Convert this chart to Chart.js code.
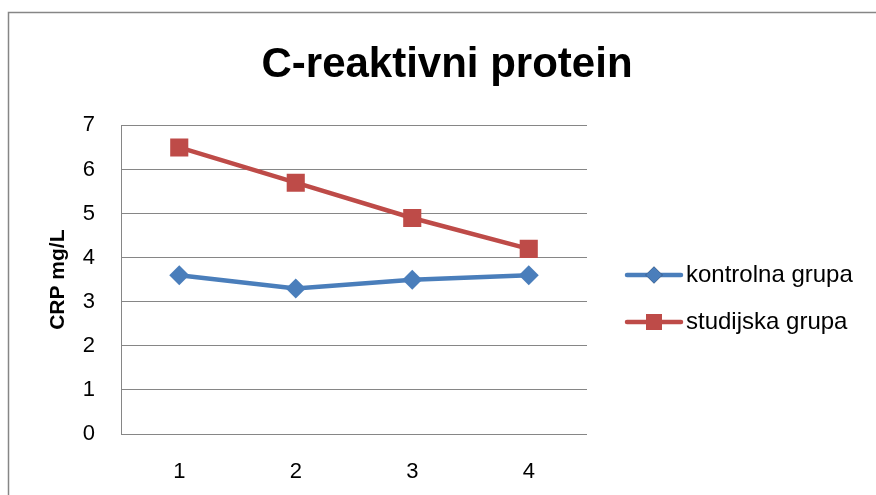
<!DOCTYPE html>
<html>
<head>
<meta charset="utf-8">
<script src="https://cdn.jsdelivr.net/npm/chart.js@4"></script>
<style>
  body { margin: 0; background: #fff; }
  #wrap { width: 876px; height: 495px; position: relative; }
</style>
</head>
<body>
<div id="wrap"><canvas id="crpChart"></canvas></div>
<script>
// chart data
const categories = ['1', '2', '3', '4'];
const kontrolna = [3.6, 3.3, 3.5, 3.6];
const studijska = [6.5, 5.7, 4.9, 4.2];
const seriesNames = ['kontrolna grupa', 'studijska grupa'];
const yTicks = [0, 1, 2, 3, 4, 5, 6, 7];

const FONT = '"Liberation Sans", Arial, sans-serif';
const GRID = '#868686';

// outer frame of the chart object (cut off on right and bottom)
const framePlugin = {
    id: 'frame',
    beforeDraw(chart) {
        const ctx = chart.ctx;
        ctx.save();
        ctx.fillStyle = '#fff';
        ctx.fillRect(0, 0, chart.width, chart.height);
        ctx.strokeStyle = '#868686';
        ctx.lineWidth = 1.5;
        ctx.strokeRect(8.5, 12.5, chart.width + 20, chart.height + 20);
        ctx.restore();
    }
};

// legend with a short line through the marker, like the original
const lineLegend = {
    id: 'lineLegend',
    afterDraw(chart) {
        const ctx = chart.ctx;
        const x0 = chart.chartArea.right + 40;
        const rows = [275, 322];
        ctx.save();
        chart.data.datasets.forEach((ds, i) => {
            const y = rows[i];
            ctx.strokeStyle = ds.borderColor;
            ctx.lineWidth = 4.5;
            ctx.lineCap = 'round';
            ctx.beginPath();
            ctx.moveTo(x0, y);
            ctx.lineTo(x0 + 54, y);
            ctx.stroke();
            Chart.helpers.drawPoint(ctx, {
                pointStyle: ds.pointStyle,
                radius: ds.pointStyle === 'rect' ? 11.3 : 8.5,
                rotation: 0,
                borderWidth: 0
            }, x0 + 27, y);
            ctx.fillStyle = ds.backgroundColor;
            ctx.fill();
            ctx.fillStyle = '#000';
            ctx.font = '24px ' + FONT;
            ctx.textBaseline = 'middle';
            ctx.textAlign = 'left';
            ctx.fillText(ds.label, x0 + 59, y);
        });
        ctx.restore();
    }
};

const ctx = document.getElementById('crpChart').getContext('2d');
new Chart(ctx, {
    type: 'line',
    data: {
        labels: categories,
        datasets: [{
            label: seriesNames[0],
            data: kontrolna,
            borderColor: '#4A7EBB',
            backgroundColor: '#4A7EBB',
            borderWidth: 4.5,
            pointStyle: 'rectRot',
            pointRadius: 10,
            pointHoverRadius: 10,
            pointBorderWidth: 0,
            tension: 0
        }, {
            label: seriesNames[1],
            data: studijska,
            borderColor: '#BE4B48',
            backgroundColor: '#BE4B48',
            borderWidth: 4.5,
            pointStyle: 'rect',
            pointRadius: 12.8,
            pointHoverRadius: 12.8,
            pointBorderWidth: 0,
            tension: 0
        }]
    },
    options: {
        responsive: true,
        maintainAspectRatio: false,
        animation: false,
        layout: { padding: { left: 18, right: 0, top: 0, bottom: 0 } },
        plugins: {
            legend: { display: false },
            tooltip: { enabled: false },
            title: {
                display: true,
                text: 'C-reaktivni protein',
                color: '#000',
                font: { family: FONT, size: 42, weight: 'bold' },
                padding: { top: 40, bottom: 35 }
            }
        },
        scales: {
            x: {
                offset: true,
                grid: { display: false },
                border: { display: false },
                ticks: { color: '#000', font: { family: FONT, size: 22 }, padding: 17 },
                afterFit: s => { s.height = 61; }
            },
            y: {
                min: 0,
                max: 7,
                afterBuildTicks: s => { s.ticks = yTicks.map(v => ({ value: v })); },
                grid: { color: GRID, lineWidth: 1, drawTicks: false },
                border: { display: true, color: GRID, width: 1 },
                ticks: { color: '#000', font: { family: FONT, size: 22 }, padding: 26 },
                title: {
                    display: true,
                    text: 'CRP mg/L',
                    color: '#000',
                    font: { family: FONT, size: 21, weight: 'bold' },
                    padding: { top: 28, bottom: 0 }
                },
                afterFit: s => { s.width = 103; }
            },
            // empty axis keeps room for the legend on the right
            side: {
                position: 'right',
                min: 0,
                max: 1,
                grid: { display: false },
                border: { display: false },
                ticks: { display: false },
                afterFit: s => { s.width = 289; }
            }
        }
    },
    plugins: [framePlugin, lineLegend]
});
</script>
</body>
</html>
